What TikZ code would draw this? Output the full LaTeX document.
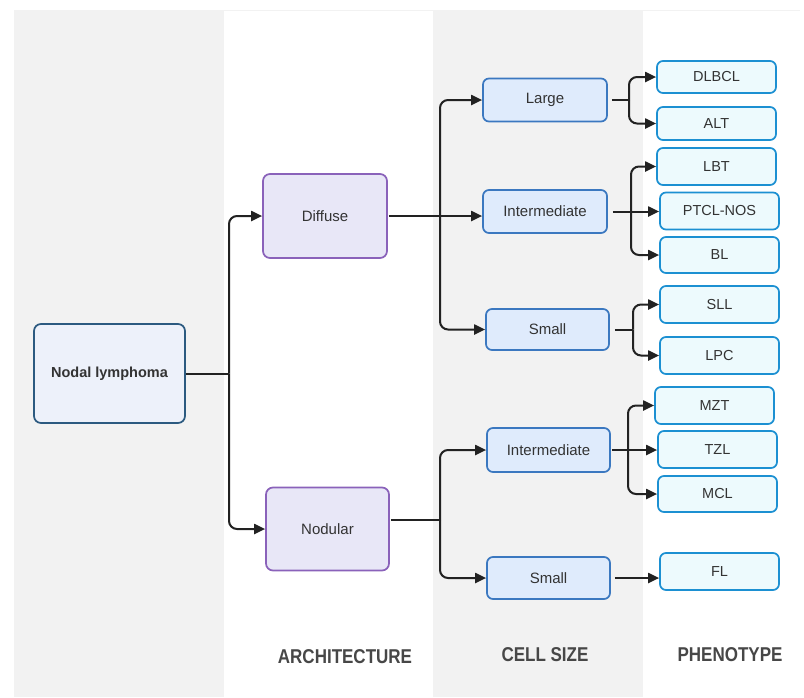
\documentclass[tikz,border=0pt]{standalone}
\usepackage{fontspec}
\setmainfont{Liberation Sans}
\newfontfamily\headfont{Liberation Sans}[FakeStretch=0.85]
\usetikzlibrary{arrows.meta}

\definecolor{panelgray}{HTML}{F2F2F2}
\definecolor{txt}{HTML}{333333}
\definecolor{rootfill}{HTML}{EDF1FA}
\definecolor{rootdraw}{HTML}{2C5A80}
\definecolor{archfill}{HTML}{E8E7F7}
\definecolor{archdraw}{HTML}{8A62BA}
\definecolor{cellfill}{HTML}{DFEBFC}
\definecolor{celldraw}{HTML}{3B78C0}
\definecolor{phenofill}{HTML}{EDFAFD}
\definecolor{phenodraw}{HTML}{1C90D2}
\definecolor{linecol}{HTML}{222222}

\tikzset{
  boxbase/.style={rectangle, rounded corners=7pt, line width=1.7pt, text=txt,
    font=\fontsize{15}{18}\selectfont, inner sep=0pt},
  rootbox/.style={boxbase, fill=rootfill, draw=rootdraw,
    minimum width=151pt, minimum height=99pt, font=\bfseries\fontsize{14.5}{17}\selectfont},
  archbox/.style={boxbase, fill=archfill, draw=archdraw,
    minimum width=124pt, minimum height=84pt},
  cellbox/.style={boxbase, fill=cellfill, draw=celldraw,
    minimum width=124pt, minimum height=43pt, rounded corners=6pt},
  phenobox/.style={boxbase, fill=phenofill, draw=phenodraw,
    minimum width=119pt, minimum height=36pt, rounded corners=6pt,
    font=\fontsize{14.5}{17}\selectfont},
  link/.style={draw=linecol, line width=2pt},
  arrowlink/.style={link, rounded corners=8pt, -{Triangle[length=11pt,width=10pt]}},
  heading/.style={text=txt!90, font=\headfont\bfseries\fontsize{20}{24}\selectfont}
}

\begin{document}
\begin{tikzpicture}[x=1pt,y=-1pt]
  % canvas and column bands
  \useasboundingbox (0,0) rectangle (804,697);
  \fill[white] (0,0) rectangle (804,697);
  \fill[panelgray] (14,10) rectangle (224,697);
  \fill[panelgray] (433,10) rectangle (643,697);
  \draw[black!5, line width=0.8pt] (224,10) -- (433,10);
  \draw[black!5, line width=0.8pt] (643,10) -- (800,10);

  % root
  \node[rootbox] (nodal) at (109.5,373.5) {Nodal lymphoma};

  % architecture
  \node[archbox] (diffuse) at (325,216) {Diffuse};
  \node[archbox, minimum width=123pt, minimum height=83pt] (nodular) at (327.5,529) {Nodular};

  % cell size
  \node[cellbox] (large) at (545,100) {Large};
  \node[cellbox] (interU) at (545,211.5) {Intermediate};
  \node[cellbox, minimum width=123pt, minimum height=41pt] (smallU) at (547.5,329.5) {Small};
  \node[cellbox, minimum width=123pt, minimum height=44pt] (interL) at (548.5,450) {Intermediate};
  \node[cellbox, minimum width=123pt, minimum height=42pt] (smallL) at (548.5,578) {Small};

  % phenotypes
  \node[phenobox, minimum height=32pt] (dlbcl) at (716.5,77) {DLBCL};
  \node[phenobox, minimum height=33pt] (alt) at (716.5,123.5) {ALT};
  \node[phenobox, minimum height=37pt] (lbt) at (716.5,166.5) {LBT};
  \node[phenobox, minimum height=37pt] (ptcl) at (719.5,211) {PTCL-NOS};
  \node[phenobox] (bl) at (719.5,255) {BL};
  \node[phenobox, minimum height=37pt] (sll) at (719.5,304.5) {SLL};
  \node[phenobox, minimum height=37pt] (lpc) at (719.5,355.5) {LPC};
  \node[phenobox, minimum height=37pt] (mzt) at (714.5,405.5) {MZT};
  \node[phenobox, minimum height=37pt] (tzl) at (717.5,449.5) {TZL};
  \node[phenobox] (mcl) at (717.5,494) {MCL};
  \node[phenobox, minimum height=37pt] (fl) at (719.5,571.5) {FL};

  % branch points
  \coordinate (j1) at (229,373.5);
  \coordinate (j2) at (440,216);
  \coordinate (j3) at (629,100);
  \coordinate (j4) at (631,211.5);
  \coordinate (j5) at (633,329.5);
  \coordinate (j6) at (440,520);
  \coordinate (j7) at (628,450);

  % root -> architecture
  \draw[link] (nodal.east) -- (j1);
  \draw[arrowlink] (j1) |- (diffuse.west);
  \draw[arrowlink] (j1) |- (nodular.west);

  % diffuse -> cell sizes
  \draw[arrowlink, shorten <=1pt] (diffuse.east) -- (interU.west |- diffuse.east);
  \draw[arrowlink] (j2) |- (large.west);
  \draw[arrowlink] (j2) |- (smallU.west);

  % nodular -> cell sizes
  \draw[link, shorten <=1pt] (nodular.east |- j6) -- (j6);
  \draw[arrowlink] (j6) |- (interL.west);
  \draw[arrowlink] (j6) |- (smallL.west);

  % large -> phenotypes
  \draw[link, shorten <=4pt] (large.east) -- (j3);
  \draw[arrowlink] (j3) |- (dlbcl.west);
  \draw[arrowlink] (j3) |- (alt.west);

  % intermediate (diffuse) -> phenotypes
  \draw[arrowlink, shorten <=5pt] (interU.east) -- (ptcl.west |- interU.east);
  \draw[arrowlink] (j4) |- (lbt.west);
  \draw[arrowlink] (j4) |- (bl.west);

  % small (diffuse) -> phenotypes
  \draw[link, shorten <=5pt] (smallU.east) -- (j5);
  \draw[arrowlink] (j5) |- (sll.west);
  \draw[arrowlink] (j5) |- (lpc.west);

  % intermediate (nodular) -> phenotypes
  \draw[arrowlink, shorten <=1pt] (interL.east) -- (tzl.west |- interL.east);
  \draw[arrowlink] (j7) |- (mzt.west);
  \draw[arrowlink] (j7) |- (mcl.west);

  % small (nodular) -> phenotype
  \draw[arrowlink, shorten <=4pt] (smallL.east) -- (fl.west |- smallL.east);

  % column headings
  \node[heading] (hArch) at (345,657) {ARCHITECTURE};
  \node[heading] (hCell) at (545,655) {CELL SIZE};
  \node[heading] (hPheno) at (730,655) {PHENOTYPE};
\end{tikzpicture}
\end{document}
